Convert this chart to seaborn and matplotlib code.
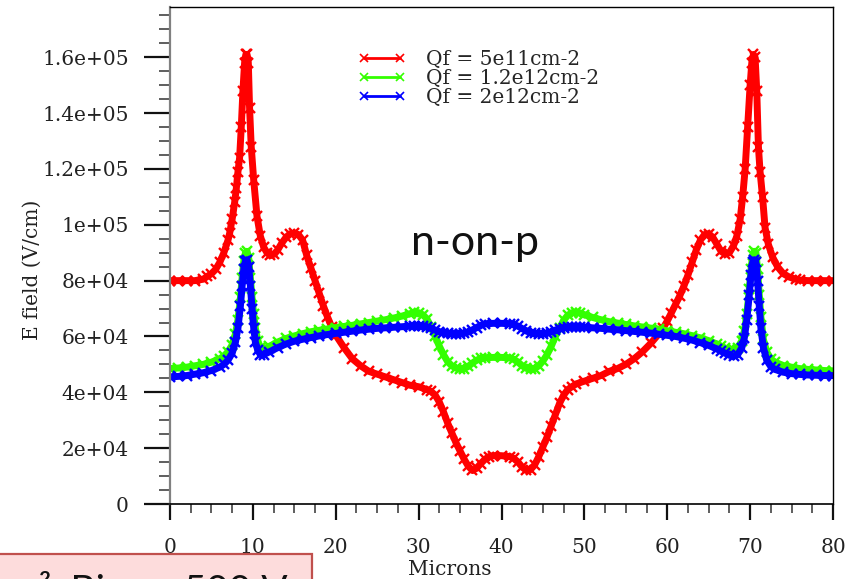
import numpy as np
import pandas as pd
import matplotlib
matplotlib.use("Agg")
import matplotlib.pyplot as plt
import seaborn as sns
from matplotlib.lines import Line2D
from matplotlib.patches import Rectangle
from matplotlib.ticker import FixedLocator, MultipleLocator

# ---------------- data (E field in kV/cm) ----------------
x_red = [0, 1, 2, 3, 4, 4.5, 5, 5.5, 6, 6.5,
         7, 7.2, 7.5, 7.8, 8.0, 8.2, 8.4, 8.6, 8.8, 9.0,
         9.15, 9.3, 9.45, 9.6, 9.8, 10.1, 10.5, 10.9, 11.3, 11.7,
         12.1, 12.6, 13, 13.5, 14, 14.5, 15, 15.5, 16, 16.5,
         17, 17.5, 18, 18.5, 19, 19.5, 20, 21, 22, 23,
         24, 25, 26, 27, 28, 29, 30, 31, 31.5, 32,
         32.5, 33, 33.5, 34, 34.5, 35, 35.5, 36, 36.5, 37,
         37.5, 38, 38.5, 39, 40, 41, 41.5, 42, 42.5, 43,
         43.5, 44, 44.5, 45, 45.5, 46, 46.5, 47, 47.5, 48,
         48.5, 49, 50, 51, 52, 53, 54, 55, 56, 57,
         58, 59, 59.5, 60, 60.5, 61, 61.5, 62, 62.5, 63,
         63.5, 64, 64.5, 65, 65.5, 66, 66.5, 67, 67.5, 68,
         68.4, 68.8, 69.1, 69.4, 69.7, 70.0, 70.2, 70.4, 70.6, 70.8,
         71.0, 71.2, 71.5, 71.8, 72.2, 72.7, 73.3, 74, 74.7, 75.5,
         76, 77, 78, 79, 80]
e_red = [80, 80, 80, 80, 80.5, 81.5, 82.5, 84, 86.5, 90,
         94.5, 97, 102, 108, 113, 119, 124, 135, 148, 158,
         161, 161, 158, 142, 128, 116, 103, 96, 92, 90,
         89, 89.5, 91, 93.5, 95.5, 96.8, 97, 96.5, 94.5, 89,
         84.5, 80, 75.5, 71, 67, 63.5, 60.5, 56, 52, 49.5,
         47.5, 46.5, 45.5, 44.5, 43.5, 42.5, 42, 41, 40.3, 39,
         36.5, 33, 29, 25.5, 22, 19, 16, 13.5, 12, 12.8,
         14.5, 16, 17, 17.3, 17.3, 17, 16.3, 15, 13.2, 12,
         12.3, 14, 17, 20.5, 24, 28, 32, 36, 39, 41,
         42, 43, 44, 45, 46, 47.5, 48.5, 50, 52, 54.5,
         57.5, 61, 63, 65.5, 68.5, 71.5, 74.5, 78, 82, 86.5,
         91, 94.5, 96.5, 96.8, 95.5, 93, 90.5, 89.5, 90, 92.5,
         96, 102, 110, 120, 135, 150, 158, 161, 160, 148,
         128, 119, 110, 99, 93, 88.5, 85, 82.5, 81.3, 80.5,
         80.2, 80, 80, 80, 80]

x_gb = [0, 1, 2, 3, 4, 5, 6, 6.5, 7, 7.5,
        7.9, 8.2, 8.5, 8.7, 8.9, 9.1, 9.3, 9.5, 9.7, 9.9,
        10.1, 10.3, 10.6, 10.9, 11.3, 12, 13, 14, 15, 16,
        17, 18, 19, 20, 21, 22, 23, 24, 25, 26,
        27, 28, 29, 29.5, 30, 30.5, 31, 31.5, 32, 32.5,
        33, 33.5, 34, 34.5, 35, 35.5, 36, 36.5, 37, 37.5,
        38, 39, 40, 41, 41.5, 42, 42.5, 43, 43.5, 44,
        44.5, 45, 45.5, 46, 46.5, 47, 47.5, 48, 48.5, 49,
        49.5, 50, 51, 52, 53, 54, 55, 56, 57, 58,
        59, 60, 61, 62, 63, 64, 65, 66, 66.5, 67,
        67.5, 68, 68.5, 69, 69.3, 69.6, 69.9, 70.1, 70.3, 70.5,
        70.7, 70.9, 71.1, 71.3, 71.6, 72, 72.5, 73, 74, 75,
        76, 77, 78, 79, 80]
e_green = [48.5, 48.7, 49, 49.5, 50, 50.8, 52, 53, 54.5, 57,
           61, 66, 74, 81, 87, 90, 90.5, 88, 81, 74,
           68, 63, 58.5, 56, 55.5, 56.5, 58, 59.3, 60.2, 61,
           61.7, 62.2, 62.7, 63.2, 63.6, 64, 64.5, 65, 65.5, 66,
           66.6, 67.3, 68.2, 68.6, 68.5, 67.8, 66.3, 63.5, 60, 56.5,
           53.5, 51, 49.5, 48.7, 48.3, 48.5, 49.3, 50.5, 51.5, 52.2,
           52.4, 52.5, 52.5, 52.3, 51.8, 50.8, 49.5, 48.6, 48.3, 48.5,
           49.5, 51.2, 53.5, 56.5, 60, 63, 65.8, 67.6, 68.5, 68.7,
           68.4, 67.8, 66.8, 66, 65.3, 64.8, 64.3, 63.8, 63.4, 63,
           62.6, 62, 61.5, 61, 60.3, 59.5, 58.5, 57.3, 56.5, 55.8,
           55.3, 55.2, 56, 58.5, 62, 68, 77, 84, 89, 90.5,
           90, 84, 75, 67, 59, 54.5, 52, 50.8, 49.6, 49,
           48.5, 48.2, 48, 47.8, 47.7]
e_blue = [45.5, 45.7, 46, 46.5, 47, 47.8, 49, 50, 51.5, 54,
          58, 63, 71, 78, 84, 87, 87.5, 85, 78, 70,
          63, 58, 55, 53.5, 53.5, 54.5, 56, 57.3, 58.3, 59,
          59.6, 60.2, 60.7, 61.1, 61.5, 61.9, 62.3, 62.6, 62.9, 63.1,
          63.3, 63.5, 63.7, 63.8, 63.8, 63.7, 63.4, 62.9, 62.3, 61.7,
          61.3, 61.1, 61, 61, 61, 61.2, 61.6, 62.3, 63.2, 64,
          64.5, 64.7, 64.7, 64.6, 64.3, 63.7, 62.8, 62, 61.4, 61.1,
          61, 61, 61.2, 61.6, 62.2, 62.8, 63.2, 63.4, 63.5, 63.5,
          63.4, 63.3, 63.1, 62.9, 62.6, 62.4, 62.1, 61.8, 61.5, 61.2,
          60.8, 60.4, 60, 59.4, 58.7, 57.8, 56.8, 55.5, 54.7, 54,
          53.3, 53, 53.5, 56, 59.5, 66, 75, 82, 86.5, 87.5,
          86.5, 80, 71, 63, 56, 51.5, 49.2, 48.2, 47.2, 46.7,
          46.4, 46.2, 46.1, 46, 46]

series_labels = ["Qf = 5e11cm-2", "Qf = 1.2e12cm-2", "Qf = 2e12cm-2"]
series_colors = ["#ff0000", "#33ff00", "#0000ff"]

xtick_vals = [0, 10, 20, 30, 40, 50, 60, 70, 80]
xtick_labels = ["0", "10", "20", "30", "40", "50", "60", "70", "80"]
ytick_vals = [0, 20000, 40000, 60000, 80000, 100000, 120000, 140000, 160000]
ytick_labels = ["0", "2e+04", "4e+04", "6e+04", "8e+04", "1e+05", "1.2e+05", "1.4e+05", "1.6e+05"]

x_label = "Microns"
y_label = "E field (V/cm)"
annotation = "n-on-p"
box_text = "cm², Bias = 500 V"

# ---------------- build table ----------------
frames = []
for lab, xs, ys in zip(series_labels, [x_red, x_gb, x_gb], [e_red, e_green, e_blue]):
    frames.append(pd.DataFrame({"Microns": xs, "E": np.array(ys) * 1000.0, "series": lab}))
df = pd.concat(frames, ignore_index=True)

sns.set_theme(style="white")
plt.rcParams["font.family"] = ["DejaVu Serif"]

W, H = 860, 579
fig = plt.figure(figsize=(W / 100, H / 100), dpi=100)
ax = fig.add_axes([170 / W, 1 - 504 / H, 663 / W, 497 / H])

sns.lineplot(data=df, x="Microns", y="E", hue="series", hue_order=series_labels,
             palette=dict(zip(series_labels, series_colors)), sort=False, estimator=None,
             marker="x", markersize=7.5, mew=1.7, linewidth=5, legend=False, ax=ax)
for ln in ax.lines:
    ln.set_markeredgecolor(ln.get_color())

ax.set_xlim(0, 80)
ax.set_ylim(0, 178000)
ax.xaxis.set_major_locator(FixedLocator(xtick_vals))
ax.set_xticklabels(xtick_labels)
ax.yaxis.set_major_locator(FixedLocator(ytick_vals))
ax.set_yticklabels(ytick_labels)
ax.xaxis.set_minor_locator(MultipleLocator(2.5))
ax.yaxis.set_minor_locator(MultipleLocator(5000))

ax.tick_params(axis="y", which="major", left=True, direction="out", length=18.7, width=1.6,
               pad=11, labelsize=14.5, color="#111111", labelcolor="#222222")
ax.tick_params(axis="y", which="minor", left=True, direction="out", length=8, width=1.1, color="#333333")
ax.tick_params(axis="x", which="major", bottom=True, direction="out", length=11.5, width=1.6,
               pad=13, labelsize=14.5, color="#111111", labelcolor="#222222")
ax.tick_params(axis="x", which="minor", bottom=True, direction="out", length=6.5, width=1.1, color="#333333")

for side in ["top", "right"]:
    ax.spines[side].set_color("#000000")
    ax.spines[side].set_linewidth(1.0)
ax.spines["left"].set_color("#808080")
ax.spines["left"].set_linewidth(1.6)
ax.spines["bottom"].set_color("#000000")
ax.spines["bottom"].set_linewidth(1.2)

ax.set_xlabel(x_label, fontsize=14.5, color="#222222")
ax.xaxis.set_label_coords((450 - 170) / 663, (504 - 575) / 497)
ax.xaxis.label.set_va("baseline")
ax.set_ylabel(y_label, fontsize=14.5, color="#222222")
ax.yaxis.set_label_coords((42 - 170) / 663, (504 - 270) / 497)

handles = [Line2D([], [], color=c, lw=2, marker="x", markersize=6, mew=1.2) for c in series_colors]
ax.legend(handles, series_labels, loc="upper left", bbox_to_anchor=(358 / W, 1 - 50 / H),
          bbox_transform=fig.transFigure, frameon=False, numpoints=2, handlelength=2.4,
          handletextpad=1.0, labelspacing=0.0, borderpad=0, borderaxespad=0,
          prop={"family": "DejaVu Serif", "size": 14.5})

fig.text(475 / W, 1 - 255 / H, annotation, ha="center", va="baseline", fontsize=31,
         family=["Lato", "DejaVu Sans"], color="#111111")

fig.add_artist(Rectangle((-2 / W, 1 - 595 / H), 314 / W, 41 / H, transform=fig.transFigure,
                         facecolor="#fddcdc", edgecolor="#c0504d", linewidth=1.6))
fig.text(-12 / W, 1 - 603 / H, box_text, ha="left", va="baseline", fontsize=28,
         family=["Lato", "DejaVu Sans"], color="#111111")

fig.savefig("out.png", dpi=100)
